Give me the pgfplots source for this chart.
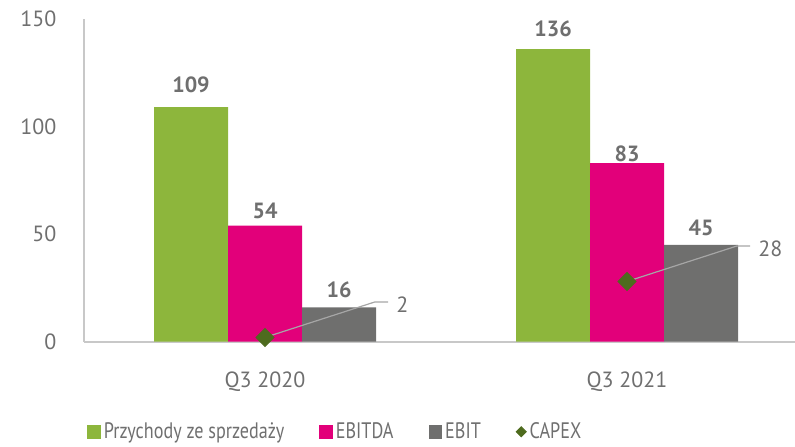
\documentclass[border=0pt]{standalone}
\usepackage{pgfplots}
\pgfplotsset{compat=1.18}
\usepackage{fontspec}
\setmainfont{PT Sans}
\newfontfamily\legfont{PT Sans}[FakeStretch=0.81]
\definecolor{cgreen}{HTML}{8DB63C}
\definecolor{cmag}{HTML}{E2007A}
\definecolor{cgray}{HTML}{6F6F6E}
\definecolor{cdia}{HTML}{4E6B1E}
\definecolor{ctext}{HTML}{6F6F6F}
\definecolor{caxis}{HTML}{C8C8C8}
\definecolor{clead}{HTML}{A6A6A6}
\begin{document}
\fontsize{11}{13}\selectfont
\begin{tikzpicture}
\path[use as bounding box] (-42pt,-52.15pt) rectangle (355.5pt,170.85pt);
\begin{axis}[
  at={(0,0)}, anchor=south west,
  scale only axis, width=355.5pt, height=161.4pt,
  xmin=-0.5, xmax=1.464, ymin=0, ymax=150,
  axis x line*=bottom, axis y line*=left,
  axis line style={caxis, line width=0.8pt, -},
  xtick={0,1}, xticklabels={Q3 2020, Q3 2021},
  ytick={0,50,100,150},
  major tick length=0pt,
  tick label style={text=ctext},
  yticklabel style={xshift=-10pt},
  xticklabel style={yshift=-11pt},
  /pgf/number format/assume math mode=true,
  clip=false,
  legend columns=4,
  legend cell align=left,
  legend style={at={(0.004,-0.279)}, anchor=west, draw=none, fill=none,
    text=ctext, inner sep=0pt, font=\fontsize{11.2}{13}\legfont,
    nodes={inner sep=1.5pt},
    /tikz/every even column/.append style={column sep=16pt}},
]
\addplot[ybar, bar width=37pt, bar shift=-37pt, fill=cgreen, draw=none,
  visualization depends on={\thisrow{off}\as\off},
  nodes near coords, nodes near coords style={font=\bfseries, text=ctext, xshift=-37pt, yshift=\off pt},
  legend image code/.code={\fill[cgreen] (0pt,-3.4pt) rectangle (6.8pt,3.4pt);}]
  table[row sep=\\] {x y off\\ 0 109 3.25\\ 1 136 2\\};
\addplot[ybar, bar width=37pt, bar shift=0pt, fill=cmag, draw=none,
  visualization depends on={\thisrow{off}\as\off},
  nodes near coords, nodes near coords style={font=\bfseries, text=ctext, yshift=\off pt},
  legend image code/.code={\fill[cmag] (0pt,-3.4pt) rectangle (6.8pt,3.4pt);}]
  table[row sep=\\] {x y off\\ 0 54 -0.5\\ 1 83 -3\\};
\addplot[ybar, bar width=37pt, bar shift=37pt, fill=cgray, draw=none,
  visualization depends on={\thisrow{off}\as\off},
  nodes near coords, nodes near coords style={font=\bfseries, text=ctext, xshift=37pt, yshift=\off pt},
  legend image code/.code={\fill[cgray] (0pt,-3.4pt) rectangle (6.8pt,3.4pt);}]
  table[row sep=\\] {x y off\\ 0 16 0.85\\ 1 45 0.75\\};
\draw[clead, line width=0.6pt] (axis cs:0,2) -- ++(55pt,17.75pt) -- ++(6.5pt,0pt);
\draw[clead, line width=0.6pt] (axis cs:1,28) -- ++(55pt,17.75pt) -- ++(6.5pt,0pt);
\addplot[only marks, mark=square*, mark size=3.2pt, color=cdia,
  mark options={rotate=45, fill=cdia, draw=cdia},
  nodes near coords, nodes near coords style={anchor=west, inner sep=0pt, text=ctext, xshift=65.5pt, yshift=16.5pt, rotate=0},
  legend image code/.code={\fill[cdia] (3.5pt,2.5pt) -- (6pt,0pt) -- (3.5pt,-2.5pt) -- (1pt,0pt) -- cycle;}]
  coordinates {(0,2) (1,28)};
\legend{Przychody ze sprzedaży, EBITDA, EBIT, CAPEX}
\end{axis}
\end{tikzpicture}
\end{document}
